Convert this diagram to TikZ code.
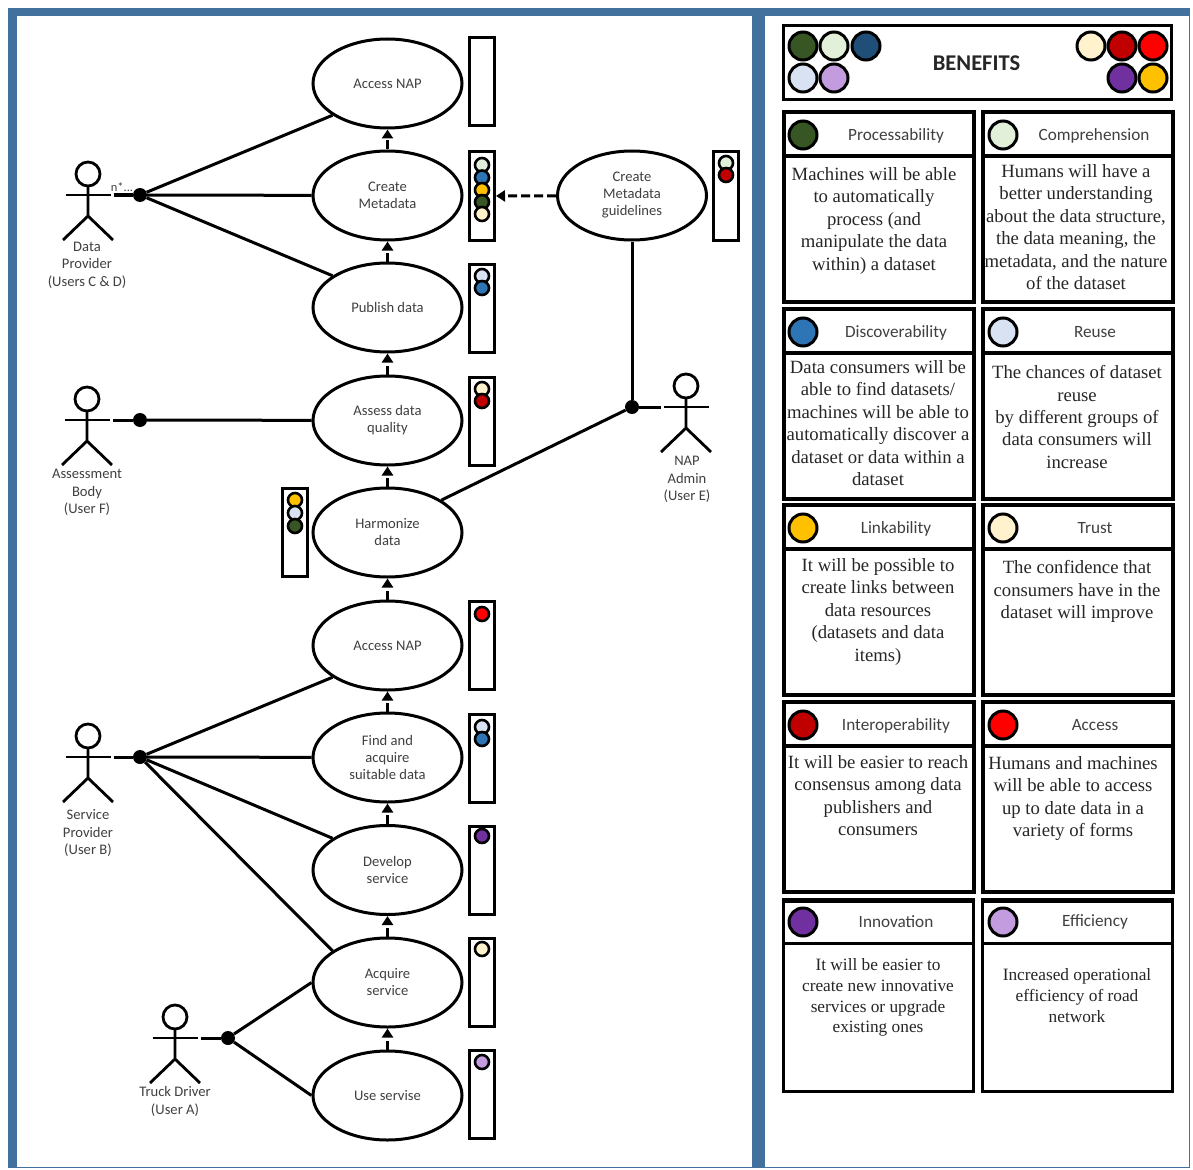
\documentclass[tikz,border=0pt]{standalone}
\usepackage{fontspec}
\setmainfont{Carlito}
\newfontfamily\cardfont{Liberation Serif}
\usetikzlibrary{positioning, shapes.geometric, arrows.meta}
\definecolor{framecol}{HTML}{41719C}
\definecolor{labelcol}{HTML}{404040}
\definecolor{procol}{HTML}{375623}
\definecolor{comcol}{HTML}{E2EFD9}
\definecolor{discol}{HTML}{2E75B6}
\definecolor{navcol}{HTML}{1F4E79}
\definecolor{reucol}{HTML}{D9E2F3}
\definecolor{effcol}{HTML}{C39BDF}
\definecolor{trucol}{HTML}{FFF2CC}
\definecolor{intcol}{HTML}{C00000}
\definecolor{acccol}{HTML}{FF0000}
\definecolor{inncol}{HTML}{7030A0}
\definecolor{lincol}{HTML}{FFC000}
\tikzset{
  usecase/.style={draw, ellipse, line width=3pt, minimum width=149pt, minimum height=89pt, inner sep=0pt, align=center, font=\fontsize{14.6}{17}\selectfont, text=labelcol},
  sigbox/.style={draw, line width=3pt, minimum width=25pt, minimum height=88pt, inner sep=0pt},
  sig/.style={draw, circle, line width=2.6pt, minimum size=14pt, inner sep=0pt},
  bigdot/.style={draw, circle, line width=3pt, minimum size=28pt, inner sep=0pt},
  joint/.style={circle, fill=black, minimum size=14pt, inner sep=0pt},
  who/.style={align=center, anchor=north, font=\fontsize{14.6}{17.5}\selectfont, text=labelcol},
  link/.style={line width=3pt},
  flow/.style={line width=3pt, dashed, dash pattern=on 9pt off 4pt, -{Triangle[length=9pt, width=11pt]}},
  card/.style={draw, line width=4pt, minimum width=190pt, minimum height=190pt, inner sep=0pt},
  cardhead/.style={draw, line width=4pt, minimum width=190pt, minimum height=44pt, inner sep=0pt},
  thincard/.style={line width=3pt},
  cardtitle/.style={font=\fontsize{17.2}{20}\selectfont, text=labelcol},
  cardtext/.style={align=center, anchor=north, font=\cardfont\fontsize{18.7}{22.4}\selectfont, text=black!85},
  smalltext/.style={font=\cardfont\fontsize{17.3}{20.8}\selectfont},
  actorfig/.pic={
    \draw[line width=2.8pt] (0,-21) circle (12);
    \draw[line width=2.8pt] (-22.5,0) -- (22.5,0);
    \draw[line width=2.8pt] (0,-9) -- (0,21) (-25,45) -- (0,21) -- (25,45);
  }
}
\begin{document}
\begin{tikzpicture}[x=1pt, y=-1pt]
\useasboundingbox (0,0) rectangle (1193,1169);
% frame
\fill[framecol] (8,8) rectangle (1190,1168);
\fill[white] (17,16) rectangle (752,1167);
\fill[white] (765,16) rectangle (1189,1167);

% use cases
\node[usecase] (access1) at (387.5,83.5) {Access NAP};
\node[usecase] (meta) at (387.5,195.5) {Create\\Metadata};
\node[usecase] (publish) at (387.5,307.5) {Publish data};
\node[usecase] (assess) at (387.5,420.5) {Assess data\\quality};
\node[usecase] (harm) at (387.5,532.5) {Harmonize\\data};
\node[usecase] (access2) at (387.5,645.5) {Access NAP};
\node[usecase] (find) at (387.5,757.5) {Find and\\acquire\\suitable data};
\node[usecase] (develop) at (387.5,870) {Develop\\service};
\node[usecase] (acquire) at (387.5,982.5) {Acquire\\service};
\node[usecase] (use) at (387.5,1095.5) {Use servise};
\node[usecase] (guide) at (632,195.5) {Create\\Metadata\\guidelines};

% flows between use cases
\draw[flow] (meta) -- (access1);
\draw[flow] (publish) -- (meta);
\draw[flow] (assess) -- (publish);
\draw[flow] (harm) -- (assess);
\draw[flow] (access2) -- (harm);
\draw[flow] (find) -- (access2);
\draw[flow] (develop) -- (find);
\draw[flow] (acquire) -- (develop);
\draw[flow] (use) -- (acquire);

% signal boxes
\node[sigbox] (box1) at (482,82) {};
\node[sigbox] (box2) at (482,196) {};
\node[sigbox] (box3) at (482,308) {};
\node[sigbox] (box4) at (482,421) {};
\node[sigbox] (box5) at (295,532) {};
\node[sigbox] (box6) at (482,645) {};
\node[sigbox] (box7) at (482,758) {};
\node[sigbox] (box8) at (482,870) {};
\node[sigbox] (box9) at (482,982) {};
\node[sigbox] (box10) at (482,1094) {};
\node[sigbox] (box11) at (726,196) {};
\draw[flow] (guide) -- (box2);

% signals
\node[sig, fill=comcol] (s2a) at (482,165) {};
\node[sig, fill=discol] (s2b) at (482,177.5) {};
\node[sig, fill=lincol] (s2c) at (482,190) {};
\node[sig, fill=procol] (s2d) at (482,202) {};
\node[sig, fill=trucol] (s2e) at (482,214) {};
\node[sig, fill=reucol] (s3a) at (482,276) {};
\node[sig, fill=discol] (s3b) at (482,288) {};
\node[sig, fill=trucol] (s4a) at (482,389) {};
\node[sig, fill=intcol] (s4b) at (482,401) {};
\node[sig, fill=lincol] (s5a) at (295,500) {};
\node[sig, fill=reucol] (s5b) at (295,513) {};
\node[sig, fill=procol] (s5c) at (295,526) {};
\node[sig, fill=acccol] (s6a) at (482,614) {};
\node[sig, fill=reucol] (s7a) at (482,727) {};
\node[sig, fill=discol] (s7b) at (482,739) {};
\node[sig, fill=inncol] (s8a) at (482,836) {};
\node[sig, fill=trucol] (s9a) at (482,949) {};
\node[sig, fill=effcol] (s10a) at (482,1062) {};
\node[sig, fill=comcol] (s11a) at (726,163) {};
\node[sig, fill=intcol] (s11b) at (726,175) {};

% actors
\pic at (88,195) {actorfig};
\pic at (87,420) {actorfig};
\pic at (88,757) {actorfig};
\pic at (175,1038) {actorfig};
\pic at (686,407) {actorfig};
\node[who] (provider) at (87,238.5) {Data\\Provider\\(Users C \& D)};
\node[who] (body) at (87,466) {Assessment\\Body\\(User F)};
\node[who] (service) at (88,806) {Service\\Provider\\(User B)};
\node[who] (truck) at (175,1083) {Truck Driver\\(User A)};
\node[who] (admin) at (687,453) {NAP\\Admin\\(User E)};
\node[font=\fontsize{12.5}{13}\selectfont, text=labelcol] (nstar) at (122,187) {n*...};

% joints and links
\node[joint] (j1) at (140,195) {};
\node[joint] (j2) at (140,420) {};
\node[joint] (j3) at (140,757) {};
\node[joint] (j4) at (228,1038) {};
\node[joint] (j5) at (632,407) {};
\coordinate (a1) at (113.5,195);
\coordinate (a2) at (113,420);
\coordinate (a3) at (113.5,757);
\coordinate (a4) at (200.5,1038);
\coordinate (a5) at (660.5,407);
\draw[link] (a1) -- (j1);
\draw[link] (a2) -- (j2);
\draw[link] (a3) -- (j3);
\draw[link] (a4) -- (j4);
\draw[link] (a5) -- (j5);
\draw[link] (j1) -- (access1.210);
\draw[link] (j1) -- (meta);
\draw[link] (j1) -- (publish.150);
\draw[link] (j2) -- (assess);
\draw[link] (j3) -- (access2.210);
\draw[link] (j3) -- (find);
\draw[link] (j3) -- (develop.150);
\draw[link] (j3) -- (acquire.150);
\draw[link] (j4) -- (acquire.180);
\draw[link] (j4) -- (use.180);
\draw[link] (j5) -- (harm.31);
\draw[link] (j5) -- (guide);

% benefits header
\node[draw, line width=3.6pt, minimum width=388pt, minimum height=74pt, inner sep=0pt] (benefits) at (977.5,62.5) {};
\node[font=\bfseries\fontsize{22.5}{26}\selectfont, text=black!85] (bentitle) at (976.5,63) {BENEFITS};
\node[bigdot, fill=procol] (b1) at (803,46) {};
\node[bigdot, fill=comcol] (b2) at (834,46) {};
\node[bigdot, fill=navcol] (b3) at (866,46) {};
\node[bigdot, fill=reucol] (b4) at (803,78) {};
\node[bigdot, fill=effcol] (b5) at (834,78) {};
\node[bigdot, fill=trucol] (b6) at (1091,46) {};
\node[bigdot, fill=intcol] (b7) at (1122,46) {};
\node[bigdot, fill=acccol] (b8) at (1153,46) {};
\node[bigdot, fill=inncol] (b9) at (1122,78) {};
\node[bigdot, fill=lincol] (b10) at (1153,78) {};

% cards
\node[card] (c1) at (878.5,207) {};
\node[cardhead] (h1) at (878.5,134) {};
\node[bigdot, fill=procol] (d1) at (803,135) {};
\node[cardtitle] (t1) at (896,136) {Processability};
\node[cardtext] (x1) at (874,164) {Machines will be able\\to automatically\\process (and\\manipulate the data\\within) a dataset};

\node[card] (c2) at (1077.5,207) {};
\node[cardhead] (h2) at (1077.5,134) {};
\node[bigdot, fill=comcol] (d2) at (1003,135) {};
\node[cardtitle] (t2) at (1094,136) {Comprehension};
\node[cardtext] (x2) at (1076,161) {Humans will have a\\better understanding\\about the data structure,\\the data meaning, the\\metadata, and the nature\\of the dataset};

\node[card] (c3) at (878.5,404) {};
\node[cardhead] (h3) at (878.5,331) {};
\node[bigdot, fill=discol] (d3) at (803,332) {};
\node[cardtitle] (t3) at (896,333) {Discoverability};
\node[cardtext] (x3) at (878,357) {Data consumers will be\\able to find datasets/\\machines will be able to\\automatically discover a\\dataset or data within a\\dataset};

\node[card] (c4) at (1077.5,404) {};
\node[cardhead] (h4) at (1077.5,331) {};
\node[bigdot, fill=reucol] (d4) at (1003,332) {};
\node[cardtitle] (t4) at (1095,332) {Reuse};
\node[cardtext] (x4) at (1077,362) {The chances of dataset\\reuse\\by different groups of\\data consumers will\\increase};

\node[card] (c5) at (878.5,600) {};
\node[cardhead] (h5) at (878.5,527) {};
\node[bigdot, fill=lincol] (d5) at (803,528) {};
\node[cardtitle] (t5) at (896,529) {Linkability};
\node[cardtext] (x5) at (878,555) {It will be possible to\\create links between\\data resources\\(datasets and data\\items)};

\node[card] (c6) at (1077.5,600) {};
\node[cardhead] (h6) at (1077.5,527) {};
\node[bigdot, fill=trucol] (d6) at (1003,528) {};
\node[cardtitle] (t6) at (1095,528) {Trust};
\node[cardtext] (x6) at (1077,557) {The confidence that\\consumers have in the\\dataset will improve};

\node[card] (c7) at (878.5,797) {};
\node[cardhead] (h7) at (878.5,724) {};
\node[bigdot, fill=intcol] (d7) at (803,725) {};
\node[cardtitle] (t7) at (896,726) {Interoperability};
\node[cardtext] (x7) at (878,752) {It will be easier to reach\\consensus among data\\publishers and\\consumers};

\node[card] (c8) at (1077.5,797) {};
\node[cardhead] (h8) at (1077.5,724) {};
\node[bigdot, fill=acccol] (d8) at (1003,725) {};
\node[cardtitle] (t8) at (1095,725) {Access};
\node[cardtext] (x8) at (1073,753) {Humans and machines\\will be able to access\\up to date data in a\\variety of forms};

\node[card, thincard] (c9) at (878.5,996) {};
\node[cardhead, thincard] (h9) at (878.5,921) {};
\node[bigdot, fill=inncol] (d9) at (803,922) {};
\node[cardtitle] (t9) at (896,922) {Innovation};
\node[cardtext, smalltext] (x9) at (878,955) {It will be easier to\\create new innovative\\services or upgrade\\existing ones};

\node[card, thincard] (c10) at (1077.5,996) {};
\node[cardhead, thincard] (h10) at (1077.5,921) {};
\node[bigdot, fill=effcol] (d10) at (1003,922) {};
\node[cardtitle] (t10) at (1095,922) {Efficiency};
\node[cardtext, smalltext] (x10) at (1077,965) {Increased operational\\efficiency of road\\network};
\end{tikzpicture}
\end{document}
